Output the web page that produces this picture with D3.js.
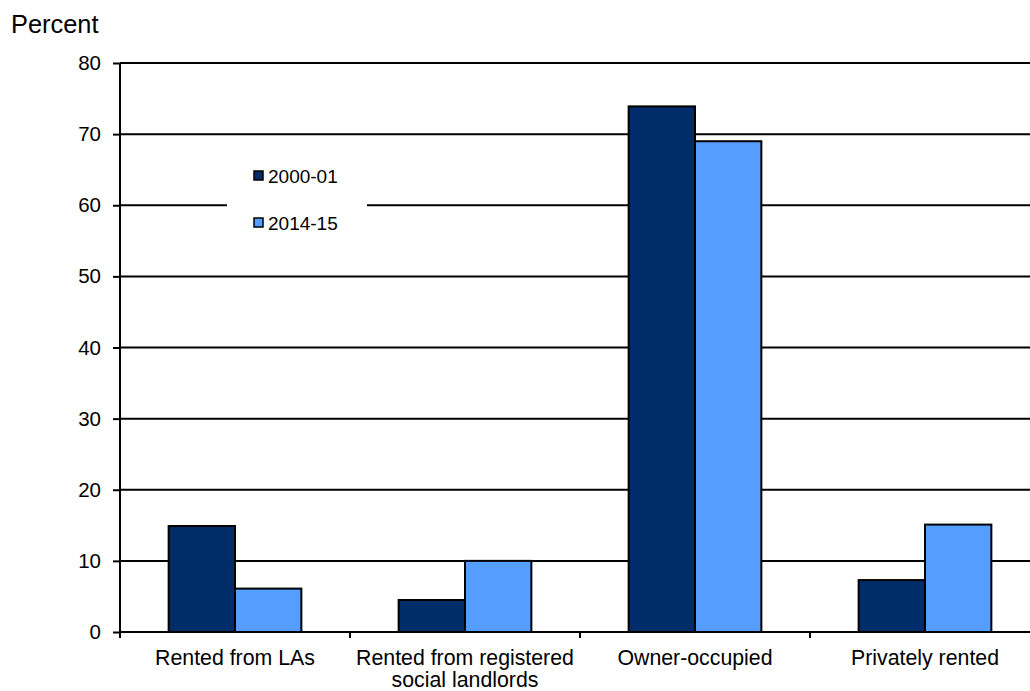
<!DOCTYPE html>
<html>
<head>
<meta charset="utf-8">
<script src="https://cdn.jsdelivr.net/npm/d3@7"></script>
<style>
  body { margin: 0; background: #fff; }
  svg { display: block; font-family: "Liberation Sans", Arial, sans-serif; }
</style>
</head>
<body>
<svg id="chart" width="1030" height="691"></svg>
<script>
const categories = ['Rented from LAs', 'Rented from registered social landlords', 'Owner-occupied', 'Privately rented']
const categoryLines = [['Rented from LAs'], ['Rented from registered', 'social landlords'], ['Owner-occupied'], ['Privately rented']]
const seriesNames = ['2000-01', '2014-15']
const values2000 = [14.9, 4.5, 73.9, 7.3]
const values2014 = [6.1, 10.0, 69.0, 15.1]
const yTicks = [0, 10, 20, 30, 40, 50, 60, 70, 80]
const colors = ['#002d69', '#559dff']

const margin = { top: 63, left: 120, right: 1040, bottom: 632 }
const svg = d3.select('#chart')

const x = d3.scaleBand().domain(categories).range([margin.left, margin.right]).paddingInner(0.423).paddingOuter(0.2115)
const xGroup = d3.scaleBand().domain(seriesNames).range([0, x.bandwidth()])
const y = d3.scaleLinear().domain([0, 80]).range([margin.bottom, margin.top])

// gridlines
svg.append('g')
  .selectAll('line')
  .data(yTicks.filter((d) => d > 0))
  .enter()
  .append('line')
  .attr('x1', margin.left)
  .attr('x2', margin.right)
  .attr('y1', (d) => y(d))
  .attr('y2', (d) => y(d))
  .attr('stroke', '#000')
  .attr('stroke-width', 2)

// legend box hides gridline behind it
const legend = svg.append('g')
legend.append('rect')
  .attr('x', 227).attr('y', 150).attr('width', 140).attr('height', 90)
  .attr('fill', '#fff')

// y axis
const yAxis = svg.append('g')
  .attr('transform', `translate(${margin.left},0)`)
  .call(d3.axisLeft(y).tickValues(yTicks).tickSize(7).tickPadding(12))
yAxis.select('.domain').attr('stroke', '#000').attr('stroke-width', 2)
  .attr('d', `M0,${margin.top}V${margin.bottom}`)
yAxis.selectAll('.tick line').attr('stroke', '#000').attr('stroke-width', 2)
yAxis.selectAll('.tick text').attr('font-size', 20.5).attr('fill', '#000')
  .attr('font-family', '"Liberation Sans", Arial, sans-serif')

// bars
const data = categories.map((c, i) => ({ cat: c, vals: [values2000[i], values2014[i]] }))
const groups = svg.append('g')
  .selectAll('g')
  .data(data)
  .enter()
  .append('g')
  .attr('transform', (d) => `translate(${x(d.cat)},0)`)

groups.selectAll('rect')
  .data((d) => d.vals.map((v, j) => ({ v, s: seriesNames[j], j })))
  .enter()
  .append('rect')
  .attr('x', (d) => xGroup(d.s))
  .attr('width', xGroup.bandwidth())
  .attr('y', (d) => y(d.v))
  .attr('height', (d) => y(0) - y(d.v))
  .attr('fill', (d) => colors[d.j])
  .attr('stroke', '#000')
  .attr('stroke-width', 2)

// x axis baseline and boundary ticks
svg.append('line')
  .attr('x1', margin.left).attr('x2', margin.right)
  .attr('y1', y(0)).attr('y2', y(0))
  .attr('stroke', '#000').attr('stroke-width', 2)

const step = x.step()
const boundaries = d3.range(categories.length + 1).map((i) => margin.left + i * step)
svg.append('g')
  .selectAll('line')
  .data(boundaries)
  .enter()
  .append('line')
  .attr('x1', (d) => d).attr('x2', (d) => d)
  .attr('y1', y(0)).attr('y2', y(0) + 6)
  .attr('stroke', '#000').attr('stroke-width', 2)

// category labels
svg.append('g')
  .selectAll('text')
  .data(categories)
  .enter()
  .append('text')
  .attr('x', (d) => x(d) + x.bandwidth() / 2)
  .attr('y', 665)
  .attr('text-anchor', 'middle')
  .attr('font-size', 21.3)
  .attr('fill', '#000')
  .selectAll('tspan')
  .data((d, i) => categoryLines[i])
  .enter()
  .append('tspan')
  .attr('x', function () { return this.parentNode.getAttribute('x') })
  .attr('dy', (d, i) => (i === 0 ? 0 : 22))
  .text((d) => d)

// legend entries
seriesNames.forEach((s, i) => {
  const ly = 176 + i * 47
  legend.append('rect')
    .attr('x', 254).attr('y', ly - 5).attr('width', 9).attr('height', 9)
    .attr('fill', colors[i]).attr('stroke', '#000').attr('stroke-width', 1.5)
  legend.append('text')
    .attr('x', 268).attr('y', ly + 7)
    .attr('font-size', 19)
    .attr('fill', '#000')
    .text(s)
})

// y axis title
svg.append('text')
  .attr('x', 11).attr('y', 33)
  .attr('font-size', 25.4)
  .attr('fill', '#000')
  .text('Percent')
</script>
</body>
</html>
